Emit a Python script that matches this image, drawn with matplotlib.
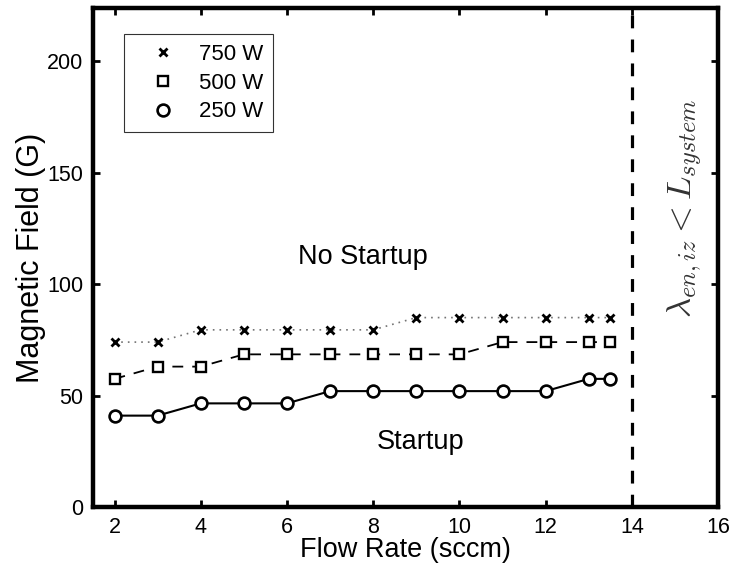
import matplotlib
matplotlib.use("Agg")
import matplotlib.pyplot as plt

plt.rcParams['font.family'] = ['Liberation Sans', 'DejaVu Sans']
plt.rcParams['mathtext.fontset'] = 'cm'

# flow rate (sccm)
flow = [2, 3, 4, 5, 6, 7, 8, 9, 10, 11, 12, 13, 13.5]
# minimum magnetic field for startup (G)
b_750 = [74.0, 74.0, 79.5, 79.5, 79.5, 79.5, 79.5, 85.0, 85.0, 85.0, 85.0, 85.0, 85.0]
b_500 = [57.5, 63.0, 63.0, 68.5, 68.5, 68.5, 68.5, 68.5, 68.5, 74.0, 74.0, 74.0, 74.0]
b_250 = [41.0, 41.0, 46.5, 46.5, 46.5, 52.0, 52.0, 52.0, 52.0, 52.0, 52.0, 57.5, 57.5]
limit_flow = 14

fig = plt.figure(figsize=(7.32, 5.63), dpi=100)
ax = fig.add_axes([0.127, 0.0995, 0.854, 0.8865])

ax.plot(flow, b_750, color="0.45", linestyle=(0, (1, 3)), linewidth=1.2)
ax.plot(flow, b_500, color="k", linestyle=(0, (6, 5)), linewidth=1.3)
ax.plot(flow, b_250, color="k", linestyle="-", linewidth=1.5)
h1, = ax.plot(flow, b_750, "x", color="k", markersize=6, markeredgewidth=2.0, linestyle="none", label="750 W")
h2, = ax.plot(flow, b_500, "s", color="k", markerfacecolor="white", markersize=6.5, markeredgewidth=1.7, linestyle="none", label="500 W")
h3, = ax.plot(flow, b_250, "o", color="k", markerfacecolor="white", markersize=8.5, markeredgewidth=1.9, linestyle="none", label="250 W")

ax.axvline(limit_flow, color="k", linestyle=(0, (4, 3.5)), linewidth=2.3)

ax.text(7.75, 112, "No Startup", fontsize=19.5, ha="center", va="center")
ax.text(9.1, 29, "Startup", fontsize=19.5, ha="center", va="center")
ax.text(15.25, 134, r"$\lambda_{en,iz} < L_{system}$", fontsize=25, rotation=90,
        ha="center", va="center", color="0.2")

ax.set_xlim(1.5, 16)
ax.set_ylim(0, 224)
ax.set_xticks([2, 4, 6, 8, 10, 12, 14, 16])
ax.set_yticks([0, 50, 100, 150, 200])
ax.tick_params(direction="in", length=5, width=2, labelsize=15.5, pad=7,
               top=True, right=True)
for s in ax.spines.values():
    s.set_linewidth(3.2)

ax.set_xlabel("Flow Rate (sccm)", fontsize=19.5, labelpad=-0.5)
ax.set_ylabel("Magnetic Field (G)", fontsize=22, labelpad=0.5)

leg = ax.legend(handles=[h1, h2, h3], loc="upper left", bbox_to_anchor=(0.05, 0.948),
                fontsize=16, frameon=True, fancybox=False, handlelength=2.6,
                handletextpad=0.3, borderpad=0.45, labelspacing=0.35, borderaxespad=0)
leg.get_frame().set_edgecolor("k")
leg.get_frame().set_linewidth(0.8)

fig.savefig("out.png", dpi=100)
